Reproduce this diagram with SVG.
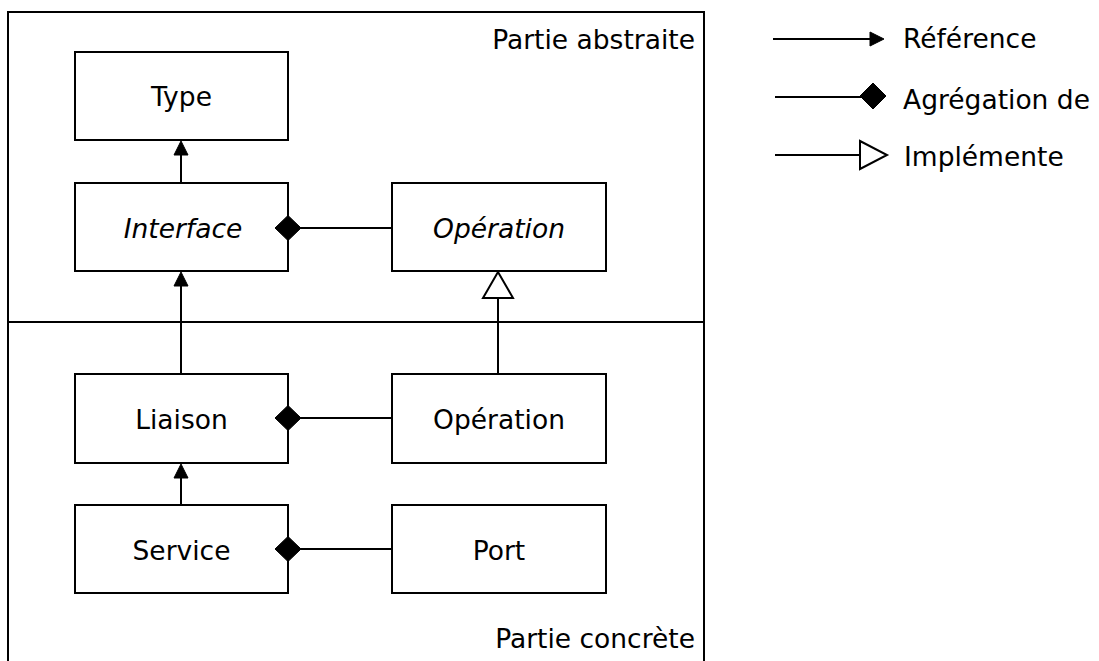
<svg xmlns="http://www.w3.org/2000/svg" width="1099" height="661" viewBox="0 0 1099 661">
<style>
.box{fill:#fff;stroke:#000;stroke-width:2}
.ln{fill:none;stroke:#000;stroke-width:2}
text{font-family:"DejaVu Sans",Verdana,sans-serif;font-size:26.5px;fill:#000}
.c{text-anchor:middle}
.i{font-style:italic}
.fill{fill:#000;stroke:#000;stroke-width:1}
.hollow{fill:#fff;stroke:#000;stroke-width:2}
</style>
<rect width="1099" height="661" fill="#fff"/>
<g id="frame">
<path class="ln" d="M8,661 V12 H704 V661 M8,322 H704"/>
<text x="695" y="49" text-anchor="end">Partie abstraite</text>
<text x="695" y="648" text-anchor="end">Partie concrète</text>
</g>
<g id="type"><rect class="box" x="75" y="52" width="213" height="88"/><text class="c" x="181.5" y="106">Type</text></g>
<g id="interface"><rect class="box" x="75" y="183" width="213" height="88"/><text class="c i" x="183" y="238">Interface</text></g>
<g id="operation-abstraite"><rect class="box" x="392" y="183" width="214" height="88"/><text class="c i" x="499" y="238">Opération</text></g>
<g id="liaison"><rect class="box" x="75" y="374" width="213" height="89"/><text class="c" x="181.5" y="429">Liaison</text></g>
<g id="operation-concrete"><rect class="box" x="392" y="374" width="214" height="89"/><text class="c" x="499" y="429">Opération</text></g>
<g id="service"><rect class="box" x="75" y="505" width="213" height="88"/><text class="c" x="181.5" y="560">Service</text></g>
<g id="port"><rect class="box" x="392" y="505" width="214" height="88"/><text class="c" x="499" y="560">Port</text></g>
<g id="connectors">
<line class="ln" x1="181" y1="183" x2="181" y2="152"/>
<polygon class="fill" points="181,141 174,155 188,155"/>
<line class="ln" x1="181" y1="374" x2="181" y2="283"/>
<polygon class="fill" points="181,272 174,286 188,286"/>
<line class="ln" x1="181" y1="505" x2="181" y2="475"/>
<polygon class="fill" points="181,464 174,478 188,478"/>
<line class="ln" x1="301" y1="228" x2="392" y2="228"/>
<polygon class="fill" points="275,228 288,215.5 301,228 288,240.5"/>
<line class="ln" x1="301" y1="418" x2="392" y2="418"/>
<polygon class="fill" points="275,418 288,405.5 301,418 288,430.5"/>
<line class="ln" x1="301" y1="549" x2="392" y2="549"/>
<polygon class="fill" points="275,549 288,536.5 301,549 288,561.5"/>
<line class="ln" x1="498" y1="374" x2="498" y2="298"/>
<polygon class="hollow" points="498,272 483,298 513,298"/>
</g>
<g id="legend">
<line class="ln" x1="773" y1="39" x2="872" y2="39"/>
<polygon class="fill" points="884,39 870,32 870,46"/>
<text x="903" y="48">Référence</text>
<line class="ln" x1="775" y1="97" x2="862" y2="97"/>
<polygon class="fill" points="860,96 873,83 886,96 873,109"/>
<text x="903" y="109">Agrégation de</text>
<line class="ln" x1="775" y1="155" x2="860" y2="155"/>
<polygon class="hollow" points="860,141 887,155 860,169"/>
<text x="904" y="166">Implémente</text>
</g>
</svg>
